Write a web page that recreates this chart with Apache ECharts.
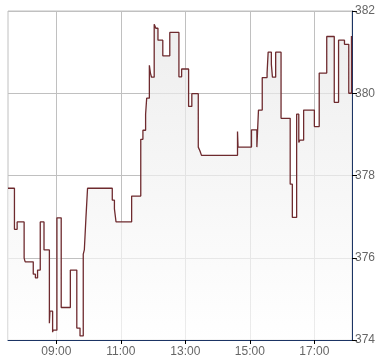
<!DOCTYPE html>
<html>
<head>
<meta charset="utf-8">
<script src="https://cdn.jsdelivr.net/npm/echarts@6/dist/echarts.min.js"></script>
<style>
html,body{margin:0;padding:0;background:#fff;}
#c{width:390px;height:364px;}
</style>
</head>
<body>
<div id="c"></div>
<script>
const times = ["07:30","07:42","07:47","08:00","08:02","08:17","08:21","08:25","08:30","08:37",
  "08:47","08:48","08:53","08:54","09:01","09:09","09:26","09:38","09:44","09:50",
  "09:52","09:55","09:58","10:44","10:48","10:51","11:20","11:37","11:41","11:46",
  "11:48","11:53","11:55","11:57","12:02","12:05","12:09","12:18","12:31","12:48",
  "12:53","13:06","13:12","13:24","13:27","13:30","14:37","14:38","15:03","15:13",
  "15:16","15:23","15:32","15:34","15:40","15:42","15:48","15:58","16:15","16:19",
  "16:27","16:31","16:33","16:40","17:00","17:09","17:23","17:37","17:45","17:56",
  "18:04","18:09"];
const prices = [377.69,376.69,376.87,375.99,375.90,375.60,375.51,375.70,376.87,376.19,
  374.41,374.70,374.19,374.24,376.97,374.79,375.70,374.29,374.10,376.09,
  376.19,376.97,377.69,377.40,377.19,376.87,377.50,378.88,379.10,379.49,
  379.88,380.68,380.49,380.39,381.68,381.58,381.29,380.91,381.48,380.40,
  380.59,379.68,379.99,378.69,378.60,378.49,379.07,378.69,379.11,378.69,
  379.59,380.38,380.49,381.00,380.70,380.39,381.00,379.39,377.79,376.98,
  379.49,378.80,378.86,379.59,379.19,380.49,381.38,379.78,381.29,381.19,
  380.00,381.39];
const xTickLabels = ["09:00","11:00","13:00","15:00","17:00"];
const xStart = "07:30", xEnd = "18:10";
const yMin = 374, yMax = 382, yStep = 2;

function toMin(s){const p=s.split(":");return (+p[0])*60+(+p[1]);}
function fmt(v){const h=Math.floor(v/60), m=Math.round(v%60);return (h<10?"0":"")+h+":"+(m<10?"0":"")+m;}
const xTicks = xTickLabels.map(toMin);
const data = times.map((t,i)=>[toMin(t), prices[i]]);

const chart = echarts.init(document.getElementById('c'), null, {renderer:'canvas'});
const font = "'Liberation Sans', Arial, sans-serif";
chart.setOption({
  animation:false,
  grid:{left:8, right:38, top:11, bottom:24, show:true, borderColor:'#c0c0c0', borderWidth:1, backgroundColor:'transparent'},
  xAxis:{
    type:'value', min:toMin(xStart), max:toMin(xEnd),
    axisLine:{show:true, lineStyle:{color:'#1b3464', width:1}},
    axisTick:{show:true, customValues:xTicks, length:4, lineStyle:{color:'#000'}},
    axisLabel:{customValues:xTicks, formatter:v=>fmt(v), color:'#666', fontSize:12, fontFamily:font, margin:6},
    splitLine:{show:true, lineStyle:{color:'#c0c0c0', width:1}}
  },
  yAxis:{
    type:'value', position:'right', min:yMin, max:yMax, interval:yStep,
    axisLine:{show:true, lineStyle:{color:'#1b3464', width:1}},
    axisTick:{show:true, length:5, lineStyle:{color:'#000'}},
    axisLabel:{color:'#666', fontSize:12, fontFamily:font, margin:3},
    splitLine:{show:true, lineStyle:{color:'#c0c0c0', width:1}}
  },
  series:[{
    type:'line', step:'end', symbol:'none', data:data,
    lineStyle:{color:'#6e2a2e', width:1.3},
    areaStyle:{color:new echarts.graphic.LinearGradient(0,0,0,1,[{offset:0,color:'#e6e6e6'},{offset:1,color:'#fefefe'}])}
  }]
});
</script>
</body>
</html>
